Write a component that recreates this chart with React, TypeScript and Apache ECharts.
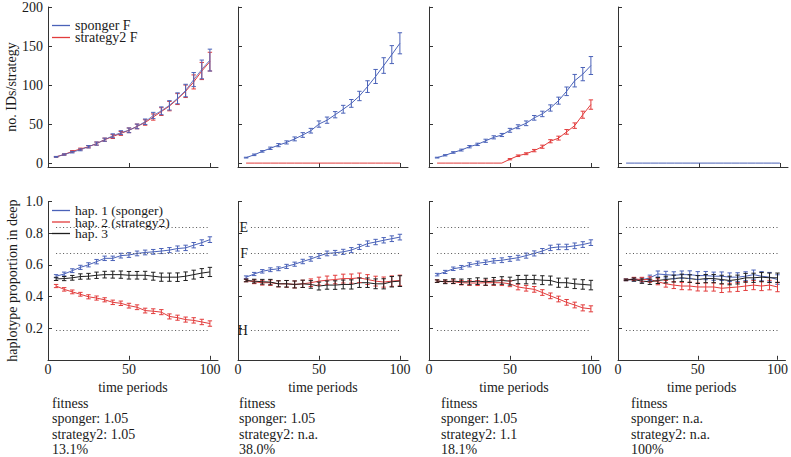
import React, { useEffect, useRef } from "react";
import * as echarts from "echarts";

// ---------- data ----------
const PERIODS = [5, 10, 15, 20, 25, 30, 35, 40, 45, 50, 55, 60, 65, 70, 75, 80, 85, 90, 95, 100];
const ZEROS = [0, 0, 0, 0, 0, 0, 0, 0, 0, 0, 0, 0, 0, 0, 0, 0, 0, 0, 0, 0];

// top row: number of IDs per strategy
const T1_BLUE = [8, 11, 14, 17, 21, 25, 30, 35, 39, 42, 47, 53, 61, 67, 74, 83, 93, 107, 120, 132];
const T1_BLUE_ERR = [0.5, 0.8, 1, 1.2, 1.5, 2, 2, 2.5, 2.5, 3, 3, 3.5, 4, 5, 6, 7, 8, 9, 12, 14];
const T1_RED = [8, 11, 15, 18, 21, 25, 30, 34, 38, 42, 47, 52, 59, 66, 73, 82, 92, 104, 118, 130];
const T1_RED_ERR = [0.5, 0.8, 1, 1.2, 1.5, 2, 2, 2.5, 2.5, 3, 3, 3.5, 4, 5, 6, 7, 8, 9, 11, 12];

const T2_BLUE = [7, 10.6, 15, 19, 23, 26.5, 31, 36, 41.5, 50, 55, 62, 69, 76.5, 86, 98, 111, 125, 139, 153.5];
const T2_BLUE_ERR = [0.5, 1, 1, 1.5, 2, 2, 2.5, 3, 3, 4, 4, 4, 5, 5, 6, 7.5, 9, 10, 11.5, 13.5];
const T2_RED = ZEROS;
const T2_RED_ERR = ZEROS;

const T3_BLUE = [7, 10, 13.6, 16.7, 21, 24, 28.6, 33, 36, 42, 46.6, 51, 58, 63, 70.6, 80, 92, 105.6, 114, 125];
const T3_BLUE_ERR = [0.5, 0.8, 1, 1.2, 1.5, 1.5, 2, 2, 2, 2.5, 2.5, 3, 3, 3.5, 4, 4.5, 5.5, 8, 8.5, 11.5];
const T3_RED = [0, 0, 0, 0, 0, 0, 0, 0, 0, 5, 9.4, 12, 16, 21, 28, 32, 40, 48, 62, 75];
const T3_RED_ERR = [0, 0, 0, 0, 0, 0, 0, 0, 0, 0.8, 1, 1.2, 1.5, 2, 2, 2.5, 3, 3.5, 4.5, 6];

const T4_BLUE = ZEROS;
const T4_BLUE_ERR = ZEROS;
const T4_RED = ZEROS;
const T4_RED_ERR = ZEROS;

// bottom row: haplotype proportion in deep
const B1_BLUE = [0.528, 0.542, 0.563, 0.584, 0.6, 0.62, 0.641, 0.641, 0.658, 0.662, 0.672, 0.678, 0.682, 0.687, 0.693, 0.703, 0.707, 0.724, 0.74, 0.759];
const B1_BLUE_ERR = [0.01, 0.012, 0.012, 0.013, 0.013, 0.014, 0.014, 0.014, 0.015, 0.015, 0.015, 0.015, 0.015, 0.016, 0.016, 0.016, 0.017, 0.017, 0.018, 0.018];
const B1_RED = [0.466, 0.445, 0.429, 0.414, 0.398, 0.39, 0.379, 0.363, 0.357, 0.342, 0.332, 0.311, 0.307, 0.301, 0.274, 0.266, 0.254, 0.249, 0.239, 0.229];
const B1_RED_ERR = [0.01, 0.011, 0.012, 0.012, 0.013, 0.013, 0.013, 0.014, 0.014, 0.015, 0.015, 0.015, 0.015, 0.016, 0.016, 0.016, 0.016, 0.017, 0.017, 0.017];
const B1_BLACK = [0.511, 0.513, 0.518, 0.526, 0.528, 0.534, 0.538, 0.538, 0.538, 0.534, 0.534, 0.534, 0.528, 0.522, 0.522, 0.522, 0.528, 0.538, 0.548, 0.555];
const B1_BLACK_ERR = [0.01, 0.013, 0.015, 0.017, 0.018, 0.02, 0.021, 0.022, 0.023, 0.024, 0.024, 0.025, 0.025, 0.026, 0.026, 0.027, 0.027, 0.028, 0.028, 0.029];

const B2_BLUE = [0.522, 0.542, 0.559, 0.569, 0.575, 0.59, 0.604, 0.621, 0.637, 0.656, 0.672, 0.676, 0.682, 0.693, 0.713, 0.734, 0.744, 0.755, 0.765, 0.775];
const B2_BLUE_ERR = [0.008, 0.01, 0.011, 0.012, 0.012, 0.013, 0.013, 0.014, 0.014, 0.015, 0.015, 0.015, 0.016, 0.016, 0.016, 0.017, 0.017, 0.017, 0.018, 0.018];
const B2_RED = [0.501, 0.493, 0.487, 0.487, 0.48, 0.48, 0.476, 0.48, 0.487, 0.497, 0.503, 0.507, 0.513, 0.513, 0.518, 0.507, 0.497, 0.491, 0.497, 0.501];
const B2_RED_ERR = [0.008, 0.012, 0.015, 0.017, 0.019, 0.021, 0.022, 0.023, 0.024, 0.025, 0.026, 0.027, 0.028, 0.029, 0.03, 0.031, 0.031, 0.032, 0.033, 0.034];
const B2_BLACK = [0.501, 0.497, 0.493, 0.491, 0.48, 0.48, 0.476, 0.48, 0.476, 0.466, 0.472, 0.472, 0.476, 0.476, 0.487, 0.487, 0.48, 0.48, 0.493, 0.497];
const B2_BLACK_ERR = [0.008, 0.012, 0.015, 0.017, 0.019, 0.021, 0.022, 0.023, 0.024, 0.025, 0.026, 0.027, 0.028, 0.029, 0.03, 0.03, 0.031, 0.032, 0.033, 0.034];

const B3_BLUE = [0.538, 0.555, 0.575, 0.584, 0.6, 0.61, 0.616, 0.625, 0.629, 0.637, 0.645, 0.658, 0.672, 0.687, 0.707, 0.713, 0.713, 0.72, 0.728, 0.74];
const B3_BLUE_ERR = [0.008, 0.01, 0.011, 0.012, 0.013, 0.013, 0.014, 0.014, 0.015, 0.015, 0.015, 0.016, 0.016, 0.016, 0.017, 0.017, 0.017, 0.018, 0.018, 0.018];
const B3_RED = [0.497, 0.493, 0.493, 0.487, 0.485, 0.485, 0.487, 0.487, 0.487, 0.48, 0.46, 0.452, 0.445, 0.425, 0.404, 0.384, 0.363, 0.346, 0.328, 0.322];
const B3_RED_ERR = [0.008, 0.01, 0.012, 0.014, 0.015, 0.016, 0.017, 0.017, 0.018, 0.018, 0.018, 0.018, 0.018, 0.018, 0.018, 0.018, 0.018, 0.018, 0.019, 0.019];
const B3_BLACK = [0.497, 0.493, 0.497, 0.493, 0.493, 0.497, 0.493, 0.497, 0.501, 0.497, 0.507, 0.507, 0.507, 0.503, 0.501, 0.487, 0.487, 0.48, 0.476, 0.472];
const B3_BLACK_ERR = [0.008, 0.012, 0.015, 0.017, 0.019, 0.021, 0.022, 0.023, 0.024, 0.025, 0.026, 0.027, 0.027, 0.028, 0.028, 0.029, 0.029, 0.03, 0.03, 0.03];

const B4_BLUE = [0.505, 0.507, 0.505, 0.518, 0.542, 0.538, 0.534, 0.538, 0.538, 0.532, 0.532, 0.528, 0.528, 0.522, 0.522, 0.528, 0.538, 0.528, 0.522, 0.507];
const B4_BLUE_ERR = [0.005, 0.01, 0.014, 0.017, 0.019, 0.021, 0.022, 0.023, 0.024, 0.025, 0.026, 0.026, 0.027, 0.027, 0.028, 0.028, 0.029, 0.029, 0.03, 0.03];
const B4_RED = [0.505, 0.511, 0.507, 0.507, 0.493, 0.48, 0.472, 0.466, 0.466, 0.46, 0.46, 0.46, 0.452, 0.456, 0.46, 0.466, 0.472, 0.466, 0.472, 0.46];
const B4_RED_ERR = [0.005, 0.01, 0.014, 0.017, 0.019, 0.021, 0.022, 0.023, 0.024, 0.025, 0.026, 0.026, 0.027, 0.027, 0.028, 0.028, 0.029, 0.029, 0.03, 0.03];
const B4_BLACK = [0.505, 0.507, 0.497, 0.493, 0.501, 0.507, 0.513, 0.518, 0.513, 0.507, 0.513, 0.513, 0.507, 0.501, 0.507, 0.518, 0.518, 0.522, 0.518, 0.518];
const B4_BLACK_ERR = [0.005, 0.01, 0.014, 0.017, 0.019, 0.021, 0.022, 0.023, 0.024, 0.025, 0.026, 0.026, 0.027, 0.027, 0.028, 0.028, 0.029, 0.029, 0.03, 0.03];

// reference levels (dotted lines) and their labels
const REF_LEVELS = [0.835, 0.672, 0.185];
const REF_LABELS = ["E", "F", "H"];

// tick labels
const X_TICKS = [0, 50, 100];
const TOP_Y_TICKS = [0, 50, 100, 150, 200];
const BOTTOM_Y_TICKS = [0.2, 0.4, 0.6, 0.8, 1.0];

// names / texts
const TOP_NAMES = ["sponger F", "strategy2 F"];
const BOTTOM_NAMES = ["hap. 1 (sponger)", "hap. 2 (strategy2)", "hap. 3"];
const FITNESS_TEXTS = [
  ["fitness", "sponger: 1.05", "strategy2: 1.05", "13.1%"],
  ["fitness", "sponger: 1.05", "strategy2: n.a.", "38.0%"],
  ["fitness", "sponger: 1.05", "strategy2: 1.1", "18.1%"],
  ["fitness", "sponger: n.a.", "strategy2: n.a.", "100%"],
];

// ---------- styling ----------
const FONT = "Liberation Serif";
const BLUE = "#4a62b8";
const RED = "#e23c3c";
const BLACK = "#1e1e1e";
const AXIS = "#333333";
const TEXT = "#1a1a1a";

const PANEL_LEFT = [48, 238, 429, 618];
const PANEL_WIDTH = 170;
const FITNESS_LEFT = [52, 239, 441, 631];

const TOP_PANELS = [
  { blue: T1_BLUE, blueErr: T1_BLUE_ERR, red: T1_RED, redErr: T1_RED_ERR },
  { blue: T2_BLUE, blueErr: T2_BLUE_ERR, red: T2_RED, redErr: T2_RED_ERR },
  { blue: T3_BLUE, blueErr: T3_BLUE_ERR, red: T3_RED, redErr: T3_RED_ERR },
  { blue: T4_BLUE, blueErr: T4_BLUE_ERR, red: T4_RED, redErr: T4_RED_ERR },
];
const BOTTOM_PANELS = [
  { blue: B1_BLUE, blueErr: B1_BLUE_ERR, red: B1_RED, redErr: B1_RED_ERR, black: B1_BLACK, blackErr: B1_BLACK_ERR },
  { blue: B2_BLUE, blueErr: B2_BLUE_ERR, red: B2_RED, redErr: B2_RED_ERR, black: B2_BLACK, blackErr: B2_BLACK_ERR },
  { blue: B3_BLUE, blueErr: B3_BLUE_ERR, red: B3_RED, redErr: B3_RED_ERR, black: B3_BLACK, blackErr: B3_BLACK_ERR },
  { blue: B4_BLUE, blueErr: B4_BLUE_ERR, red: B4_RED, redErr: B4_RED_ERR, black: B4_BLACK, blackErr: B4_BLACK_ERR },
];

const renderErr = (params: any, api: any) => {
  const x = api.value(0);
  const y = api.value(1);
  const e = api.value(2);
  if (!e) return null;
  const top = api.coord([x, y + e]);
  const bot = api.coord([x, y - e]);
  const w = 2.2;
  const style = { stroke: api.visual("color"), lineWidth: 1 };
  return {
    type: "group",
    children: [
      { type: "line", shape: { x1: top[0], y1: top[1], x2: bot[0], y2: bot[1] }, style },
      { type: "line", shape: { x1: top[0] - w, y1: top[1], x2: top[0] + w, y2: top[1] }, style },
      { type: "line", shape: { x1: bot[0] - w, y1: bot[1], x2: bot[0] + w, y2: bot[1] }, style },
    ],
  };
};

function lineSeries(name: string, idx: number, vals: number[], color: string, extra: any = {}) {
  return {
    type: "line",
    name,
    xAxisIndex: idx,
    yAxisIndex: idx,
    data: PERIODS.map((x, k) => [x, vals[k]]),
    symbol: "none",
    lineStyle: { color, width: 1 },
    itemStyle: { color },
    silent: true,
    z: 2,
    ...extra,
  };
}

function errSeries(name: string, idx: number, vals: number[], errs: number[], color: string) {
  return {
    type: "custom",
    name: name + " error",
    xAxisIndex: idx,
    yAxisIndex: idx,
    data: PERIODS.map((x, k) => [x, vals[k], errs[k]]),
    encode: { x: 0, y: 1 },
    renderItem: renderErr,
    itemStyle: { color },
    silent: true,
    z: 3,
  };
}

function buildOption() {
  const grid: any[] = [];
  const xAxis: any[] = [];
  const yAxis: any[] = [];
  const series: any[] = [];

  const labelStyle = { fontFamily: FONT, fontSize: 14, color: TEXT };

  for (let r = 0; r < 2; r++) {
    for (let p = 0; p < 4; p++) {
      const idx = r * 4 + p;
      const isTop = r === 0;
      grid.push({
        left: PANEL_LEFT[p],
        top: isTop ? 7 : 201.5,
        width: PANEL_WIDTH,
        height: isTop ? 160 : 158.3,
      });
      xAxis.push({
        gridIndex: idx,
        type: "value",
        min: 0,
        max: 105,
        axisLine: { show: true, onZero: false, lineStyle: { color: AXIS, width: 1 } },
        axisTick: { show: true, inside: true, length: 4, customValues: X_TICKS, lineStyle: { color: AXIS } },
        axisLabel: { show: !isTop, customValues: X_TICKS, margin: 3, ...labelStyle },
        splitLine: { show: false },
        name: isTop ? "" : "time periods",
        nameLocation: "middle",
        nameGap: 21,
        nameTextStyle: labelStyle,
      });
      yAxis.push({
        gridIndex: idx,
        type: "value",
        min: isTop ? -5 : 0,
        max: isTop ? 200 : 1,
        axisLine: { show: true, onZero: false, lineStyle: { color: AXIS, width: 1 } },
        axisTick: {
          show: true,
          inside: true,
          length: 4,
          customValues: isTop ? TOP_Y_TICKS : BOTTOM_Y_TICKS,
          lineStyle: { color: AXIS },
        },
        axisLabel: {
          show: p === 0,
          customValues: isTop ? TOP_Y_TICKS : BOTTOM_Y_TICKS,
          formatter: (v: number) => (isTop ? String(v) : v.toFixed(1)),
          margin: 5,
          ...labelStyle,
        },
        splitLine: { show: false },
        name: p === 0 ? (isTop ? "no. IDs/strategy" : "haplotype proportion in deep") : "",
        nameLocation: "middle",
        nameGap: 29,
        nameRotate: 90,
        nameTextStyle: labelStyle,
      });

      if (isTop) {
        const d = TOP_PANELS[p];
        const redHidden = d.red.every((v, k) => v === d.blue[k]);
        if (!redHidden) {
          series.push(lineSeries(TOP_NAMES[1], idx, d.red, RED));
          series.push(errSeries(TOP_NAMES[1], idx, d.red, d.redErr, RED));
        }
        series.push(
          lineSeries(TOP_NAMES[0], idx, d.blue, BLUE, {
            lineStyle: { color: BLUE, width: 1, opacity: p === 0 ? 0.8 : 1 },
          })
        );
        series.push(errSeries(TOP_NAMES[0], idx, d.blue, d.blueErr, BLUE));
      } else {
        const d = BOTTOM_PANELS[p];
        const refStart = p === 1 ? 8 : 5;
        series.push(
          lineSeries(BOTTOM_NAMES[0], idx, d.blue, BLUE, {
            markLine: {
              silent: true,
              animation: false,
              symbol: ["none", "none"],
              lineStyle: { color: "#555", type: [1, 2.5], width: 1 },
              label: {
                show: p === 1,
                position: "start",
                formatter: "{b}",
                distance: 3,
                ...labelStyle,
              },
              data: REF_LEVELS.map((lv, j) => [
                { coord: [refStart, lv], name: REF_LABELS[j] },
                { coord: [100, lv] },
              ]),
            },
          })
        );
        series.push(errSeries(BOTTOM_NAMES[0], idx, d.blue, d.blueErr, BLUE));
        series.push(lineSeries(BOTTOM_NAMES[1], idx, d.red, RED));
        series.push(errSeries(BOTTOM_NAMES[1], idx, d.red, d.redErr, RED));
        series.push(lineSeries(BOTTOM_NAMES[2], idx, d.black, BLACK));
        series.push(errSeries(BOTTOM_NAMES[2], idx, d.black, d.blackErr, BLACK));
      }
    }
  }

  const legend = [
    {
      data: [TOP_NAMES[0], TOP_NAMES[1]],
      left: 52,
      top: 18.5,
      padding: 0,
      orient: "vertical",
      icon: "rect",
      itemWidth: 18,
      itemHeight: 1.3,
      itemGap: -2,
      itemTextGap: 3,
      selectedMode: false,
      textStyle: { ...labelStyle, lineHeight: 13 },
    },
    {
      data: BOTTOM_NAMES,
      left: 52,
      top: 203.5,
      padding: 0,
      orient: "vertical",
      icon: "rect",
      itemWidth: 18,
      itemHeight: 1.3,
      itemGap: -2.5,
      itemTextGap: 3,
      selectedMode: false,
      textStyle: { ...labelStyle, fontSize: 13.5, lineHeight: 12 },
    },
  ];

  const graphic = FITNESS_TEXTS.map((lines, p) => ({
    type: "text",
    left: FITNESS_LEFT[p],
    top: 396,
    silent: true,
    style: {
      text: lines.join("\n"),
      font: `14px "${FONT}", serif`,
      fill: TEXT,
      lineHeight: 15.3,
    },
  }));

  return {
    animation: false,
    backgroundColor: "#ffffff",
    textStyle: { fontFamily: FONT },
    grid,
    xAxis,
    yAxis,
    legend,
    series,
    graphic,
  };
}

export default function App() {
  const ref = useRef<HTMLDivElement>(null);
  useEffect(() => {
    document.body.style.margin = "0";
    const chart = echarts.init(ref.current as HTMLDivElement, null, { renderer: "svg" });
    chart.setOption(buildOption() as any);
    return () => {
      chart.dispose();
    };
  }, []);
  return <div ref={ref} style={{ width: 791, height: 457 }} />;
}
